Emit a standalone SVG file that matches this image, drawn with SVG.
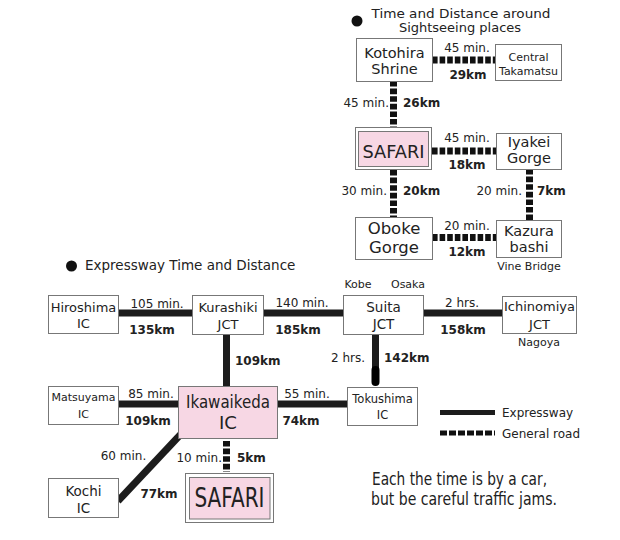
<svg xmlns="http://www.w3.org/2000/svg" width="620" height="540" viewBox="0 0 620 540">
<style>
.box{fill:#fff;stroke:#777;stroke-width:1}
.pink{fill:#f7d7e4;stroke:#777;stroke-width:1}
.t{font-family:"DejaVu Sans",Verdana,sans-serif;fill:#222}
.c{text-anchor:middle}
.e{text-anchor:end}
.lb{font-family:"DejaVu Sans",Verdana,sans-serif;font-size:12px;fill:#222}
.km{font-weight:bold}
.exp{stroke:#1c1c1c;stroke-width:7;fill:none}
.gen{stroke:#111;stroke-width:7;fill:none;stroke-dasharray:5.6 2}
</style>
<rect width="620" height="540" fill="#fff"/>

<!-- headings -->
<g id="heading-sight">
<circle cx="357" cy="21" r="5.5" fill="#111"/>
<text class="t c" x="461" y="17.5" font-size="13" textLength="179" lengthAdjust="spacingAndGlyphs">Time and Distance around</text>
<text class="t c" x="460" y="32" font-size="13">Sightseeing places</text>
</g>
<g id="heading-exp">
<circle cx="71.5" cy="266" r="5.5" fill="#111"/>
<text class="t" x="85" y="270" font-size="13.5">Expressway Time and Distance</text>
</g>

<!-- connectors -->
<g id="connectors">
<line class="gen" x1="432" y1="60" x2="495" y2="60"/>
<line class="gen" x1="393.5" y1="81" x2="393.5" y2="127"/>
<line class="gen" x1="432" y1="151" x2="496" y2="151"/>
<line class="gen" x1="393.5" y1="170" x2="393.5" y2="217"/>
<line class="gen" x1="529.5" y1="169" x2="529.5" y2="220"/>
<line class="gen" x1="432" y1="237.5" x2="496" y2="237.5"/>
<line class="exp" x1="118" y1="313" x2="192" y2="313"/>
<line class="exp" x1="263" y1="313" x2="343" y2="313"/>
<line class="exp" x1="424" y1="313" x2="502" y2="313"/>
<line class="exp" x1="226.5" y1="334" x2="226.5" y2="386"/>
<line class="exp" x1="375.5" y1="334" x2="375.5" y2="372"/>
<line x1="375.5" y1="370" x2="375.5" y2="382" stroke="#000" stroke-width="8" stroke-linecap="round"/>
<line class="exp" x1="118" y1="404" x2="178" y2="404"/>
<line class="exp" x1="277" y1="404" x2="347" y2="404"/>
<line class="exp" x1="181" y1="434" x2="118" y2="501"/>
<line class="gen" x1="226.5" y1="441" x2="226.5" y2="472" stroke-dasharray="7 5"/>
</g>

<!-- connector labels -->
<g id="labels">
<text class="lb c" x="467" y="51.5">45 min.</text>
<text class="lb km c" x="468" y="79">29km</text>
<text class="lb e" x="389" y="107">45 min.</text>
<text class="lb km" x="403" y="107">26km</text>
<text class="lb c" x="467" y="141.5">45 min.</text>
<text class="lb km c" x="467" y="169">18km</text>
<text class="lb e" x="387" y="195">30 min.</text>
<text class="lb km" x="403" y="195">20km</text>
<text class="lb e" x="522" y="195">20 min.</text>
<text class="lb km" x="537" y="195">7km</text>
<text class="lb c" x="467" y="230">20 min.</text>
<text class="lb km c" x="467" y="256">12km</text>
<text class="lb c" x="157" y="308">105 min.</text>
<text class="lb km c" x="152" y="334">135km</text>
<text class="lb c" x="302" y="307">140 min.</text>
<text class="lb km c" x="298" y="334">185km</text>
<text class="lb km" x="235" y="365">109km</text>
<text class="lb c" x="462" y="306.5">2 hrs.</text>
<text class="lb km c" x="463" y="334">158km</text>
<text class="lb e" x="365" y="361.5">2 hrs.</text>
<text class="lb km" x="384" y="361.5">142km</text>
<text class="lb c" x="151" y="397.5">85 min.</text>
<text class="lb km c" x="148" y="424.5">109km</text>
<text class="lb c" x="307" y="397.5">55 min.</text>
<text class="lb km c" x="301" y="424.5">74km</text>
<text class="lb c" x="123.5" y="459.5">60 min.</text>
<text class="lb km c" x="159" y="498">77km</text>
<text class="lb e" x="222" y="461.5">10 min.</text>
<text class="lb km" x="237" y="461.5">5km</text>
</g>

<!-- sightseeing nodes -->
<g id="kotohira">
<rect class="box" x="356.5" y="38.5" width="76" height="43"/>
<text class="t c" x="394.5" y="58" font-size="14.5">Kotohira</text>
<text class="t c" x="394.5" y="73.5" font-size="14.5">Shrine</text>
</g>
<g id="takamatsu">
<rect class="box" x="495.5" y="44.5" width="66" height="36"/>
<text class="t c" x="528.5" y="61" font-size="11">Central</text>
<text class="t c" x="528.5" y="74.5" font-size="11">Takamatsu</text>
</g>
<g id="safari-top">
<rect class="box" x="355.5" y="127.5" width="76" height="42"/>
<rect class="pink" x="358.5" y="131.5" width="70" height="35"/>
<text class="t c" x="393.5" y="158" font-size="18" textLength="62" lengthAdjust="spacingAndGlyphs">SAFARI</text>
</g>
<g id="iyakei">
<rect class="box" x="496.5" y="133.5" width="65" height="36"/>
<text class="t c" x="529" y="147" font-size="14.5">Iyakei</text>
<text class="t c" x="529" y="163" font-size="14.5">Gorge</text>
</g>
<g id="oboke">
<rect class="box" x="355.5" y="217.5" width="77" height="42"/>
<text class="t c" x="394" y="234" font-size="16.5">Oboke</text>
<text class="t c" x="394" y="252.5" font-size="16.5">Gorge</text>
</g>
<g id="kazura">
<rect class="box" x="496.5" y="220.5" width="65" height="37"/>
<text class="t c" x="529" y="235.5" font-size="14.5">Kazura</text>
<text class="t c" x="529" y="251.5" font-size="14.5">bashi</text>
<text class="t c" x="529" y="270" font-size="11">Vine Bridge</text>
</g>

<!-- expressway nodes -->
<g id="hiroshima">
<rect class="box" x="48.5" y="295.5" width="70" height="38"/>
<text class="t c" x="83.5" y="311.5" font-size="13">Hiroshima</text>
<text class="t c" x="83.5" y="328" font-size="13">IC</text>
</g>
<g id="kurashiki">
<rect class="box" x="192.5" y="295.5" width="71" height="39"/>
<text class="t c" x="228" y="311.5" font-size="13">Kurashiki</text>
<text class="t c" x="228" y="328.5" font-size="13">JCT</text>
</g>
<g id="suita">
<text class="t c" x="358" y="287.5" font-size="11">Kobe</text>
<text class="t c" x="408" y="287.5" font-size="11">Osaka</text>
<rect class="box" x="343.5" y="295.5" width="80" height="39"/>
<text class="t c" x="383.5" y="312" font-size="13.5">Suita</text>
<text class="t c" x="383.5" y="329" font-size="13.5">JCT</text>
</g>
<g id="ichinomiya">
<rect class="box" x="502.5" y="296.5" width="74" height="37"/>
<text class="t c" x="539.5" y="310.5" font-size="13">Ichinomiya</text>
<text class="t c" x="539.5" y="328.5" font-size="13">JCT</text>
<text class="t c" x="539" y="346" font-size="11">Nagoya</text>
</g>
<g id="matsuyama">
<rect class="box" x="48.5" y="386.5" width="70" height="38"/>
<text class="t c" x="83.5" y="400.5" font-size="11">Matsuyama</text>
<text class="t c" x="83.5" y="417.5" font-size="11">IC</text>
</g>
<g id="ikawaikeda">
<rect class="pink" x="178.5" y="386.5" width="99" height="52"/>
<text class="t c" x="228" y="408" font-size="18" textLength="84" lengthAdjust="spacingAndGlyphs">Ikawaikeda</text>
<text class="t c" x="228" y="428.5" font-size="18">IC</text>
</g>
<g id="tokushima">
<rect class="box" x="347.5" y="387.5" width="70" height="38"/>
<text class="t c" x="382.5" y="403" font-size="11.5">Tokushima</text>
<text class="t c" x="382.5" y="418.5" font-size="11.5">IC</text>
</g>
<g id="kochi">
<rect class="box" x="48.5" y="478.5" width="70" height="39"/>
<text class="t c" x="83.5" y="496" font-size="13.5">Kochi</text>
<text class="t c" x="83.5" y="512.5" font-size="13.5">IC</text>
</g>
<g id="safari-bottom">
<rect class="box" x="185.5" y="473.5" width="88" height="49"/>
<rect class="pink" x="189.5" y="477.5" width="80.5" height="41.5"/>
<text class="t c" x="229.5" y="507" font-size="26" textLength="70" lengthAdjust="spacingAndGlyphs">SAFARI</text>
</g>

<!-- legend -->
<g id="legend">
<line x1="440" y1="412.5" x2="495" y2="412.5" stroke="#1c1c1c" stroke-width="5"/>
<text class="t" x="502" y="416.5" font-size="12">Expressway</text>
<line x1="440" y1="433" x2="495" y2="433" stroke="#111" stroke-width="5" stroke-dasharray="7 2"/>
<text class="t" x="502" y="437.5" font-size="12">General road</text>
</g>

<g id="note">
<text class="t" x="372" y="485" font-size="17" textLength="175" lengthAdjust="spacingAndGlyphs">Each the time is by a car,</text>
<text class="t" x="371" y="505" font-size="17" textLength="186" lengthAdjust="spacingAndGlyphs">but be careful traffic jams.</text>
</g>
</svg>
